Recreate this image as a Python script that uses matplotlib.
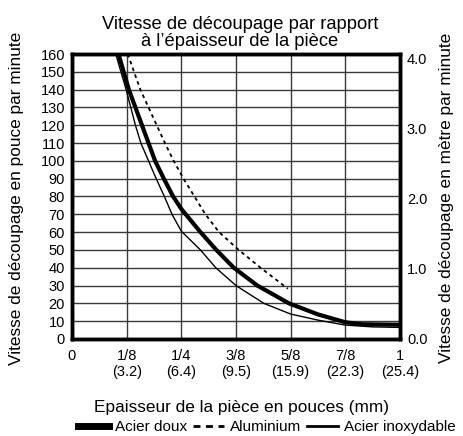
import numpy as np
import matplotlib.pyplot as plt
from matplotlib.lines import Line2D

plt.rcParams['font.family'] = ['Liberation Sans', 'DejaVu Sans']
narrow = ['Liberation Sans Narrow', 'Liberation Sans', 'DejaVu Sans']

# x axis: equally spaced thickness categories (curve x values are in tick-index units)
tick_labels = ['0', '1/8\n(3.2)', '1/4\n(6.4)', '3/8\n(9.5)', '5/8\n(15.9)', '7/8\n(22.3)', '1\n(25.4)']

# Acier doux (thick line), speed in inch/min
doux_x = [0.85, 1.04, 1.28, 1.52, 1.68, 1.85, 2.0, 2.35, 2.64, 2.96, 3.39, 3.97, 4.5, 5.0, 5.3, 6.0]
doux_y = [160, 140, 120, 100, 90, 80, 73, 60, 50, 40, 30, 20, 13.8, 9.4, 8.3, 8.0]

# Aluminium (dashed)
alu_x = [1.02, 1.25, 1.55, 1.70, 1.86, 2.04, 2.24, 2.44, 2.69, 3.05, 3.45, 3.95]
alu_y = [160, 140, 120, 110, 100, 90, 80, 70, 60, 50, 40, 28.2]

# Acier inoxydable (thin line)
inox_x = [0.80, 0.99, 1.16, 1.26, 1.40, 1.54, 1.69, 1.83, 2.0, 2.35, 2.63, 3.0, 3.51, 4.0, 4.5, 5.0, 5.5, 6.0]
inox_y = [160, 140, 120, 110, 100, 90, 80, 70, 60.5, 50, 40, 30, 20, 14, 10.6, 7.8, 6.8, 6.5]

right_ticks = [0, 1, 2, 3, 4]   # m/min

fig = plt.figure(figsize=(4.64, 4.36), dpi=100)
ax = fig.add_axes([72/464, 1 - 339/436, 328/464, 285/436])

ax.plot(doux_x, doux_y, color='black', lw=3.0)
ax.plot(alu_x, alu_y, color='black', lw=1.3, ls=(0, (2, 2)))
ax.plot(inox_x, inox_y, color='black', lw=1.0)

ax.set_xlim(0, len(tick_labels) - 1)
ax.set_ylim(0, 160)
ax.set_yticks(np.arange(0, 161, 10))
ax.set_xticks(np.arange(len(tick_labels)))
ax.set_xticklabels(tick_labels)
for t in ax.get_xticklabels() + ax.get_yticklabels():
    t.set_family(narrow)
    t.set_fontsize(10.5)
ax.grid(color='#3a3a3a', lw=1.0)
ax.set_axisbelow(True)
ax.tick_params(axis='y', length=0, pad=5)
ax.tick_params(axis='x', length=0, pad=7)
for s in ax.spines.values():
    s.set_linewidth(2.5)

ax2 = ax.twinx()
ax2.set_ylim(0, 160 * 0.0254)
ax2.set_yticks(right_ticks)
ax2.set_yticklabels([f'{v:.1f}' for v in right_ticks], family=narrow, fontsize=10.5)
ax2.tick_params(axis='y', length=0, pad=5)
for s in ax2.spines.values():
    s.set_linewidth(2.5)

fig.text(240/464, 1 - 29/436, 'Vitesse de découpage par rapport',
         ha='center', va='baseline', fontsize=13.2)
fig.text(240/464, 1 - 46.5/436, 'à l\u2019épaisseur de la pièce',
         ha='center', va='baseline', fontsize=13.2)
fig.text(17/464, 1 - 198/436, 'Vitesse de découpage en pouce par minute',
         rotation=90, ha='center', va='center', fontsize=12.4)
fig.text(447/464, 1 - 198/436, 'Vitesse de découpage en mètre par minute',
         rotation=90, ha='center', va='center', fontsize=12.4)
fig.text(242/464, 1 - 407/436, 'Epaisseur de la pièce en pouces (mm)',
         ha='center', va='center', fontsize=12.4)

handles = [Line2D([], [], color='black', lw=5),
           Line2D([], [], color='black', lw=2, ls=(0, (2.5, 2))),
           Line2D([], [], color='black', lw=2)]
fig.legend(handles, ['Acier doux', 'Aluminium', 'Acier inoxydable'], loc='center',
           bbox_to_anchor=(267/464, 1 - 427/436), ncol=3, frameon=False, fontsize=11,
           handlelength=2.0, handletextpad=0.4, columnspacing=0.4, borderpad=0)

fig.savefig('out.png', dpi=100)
